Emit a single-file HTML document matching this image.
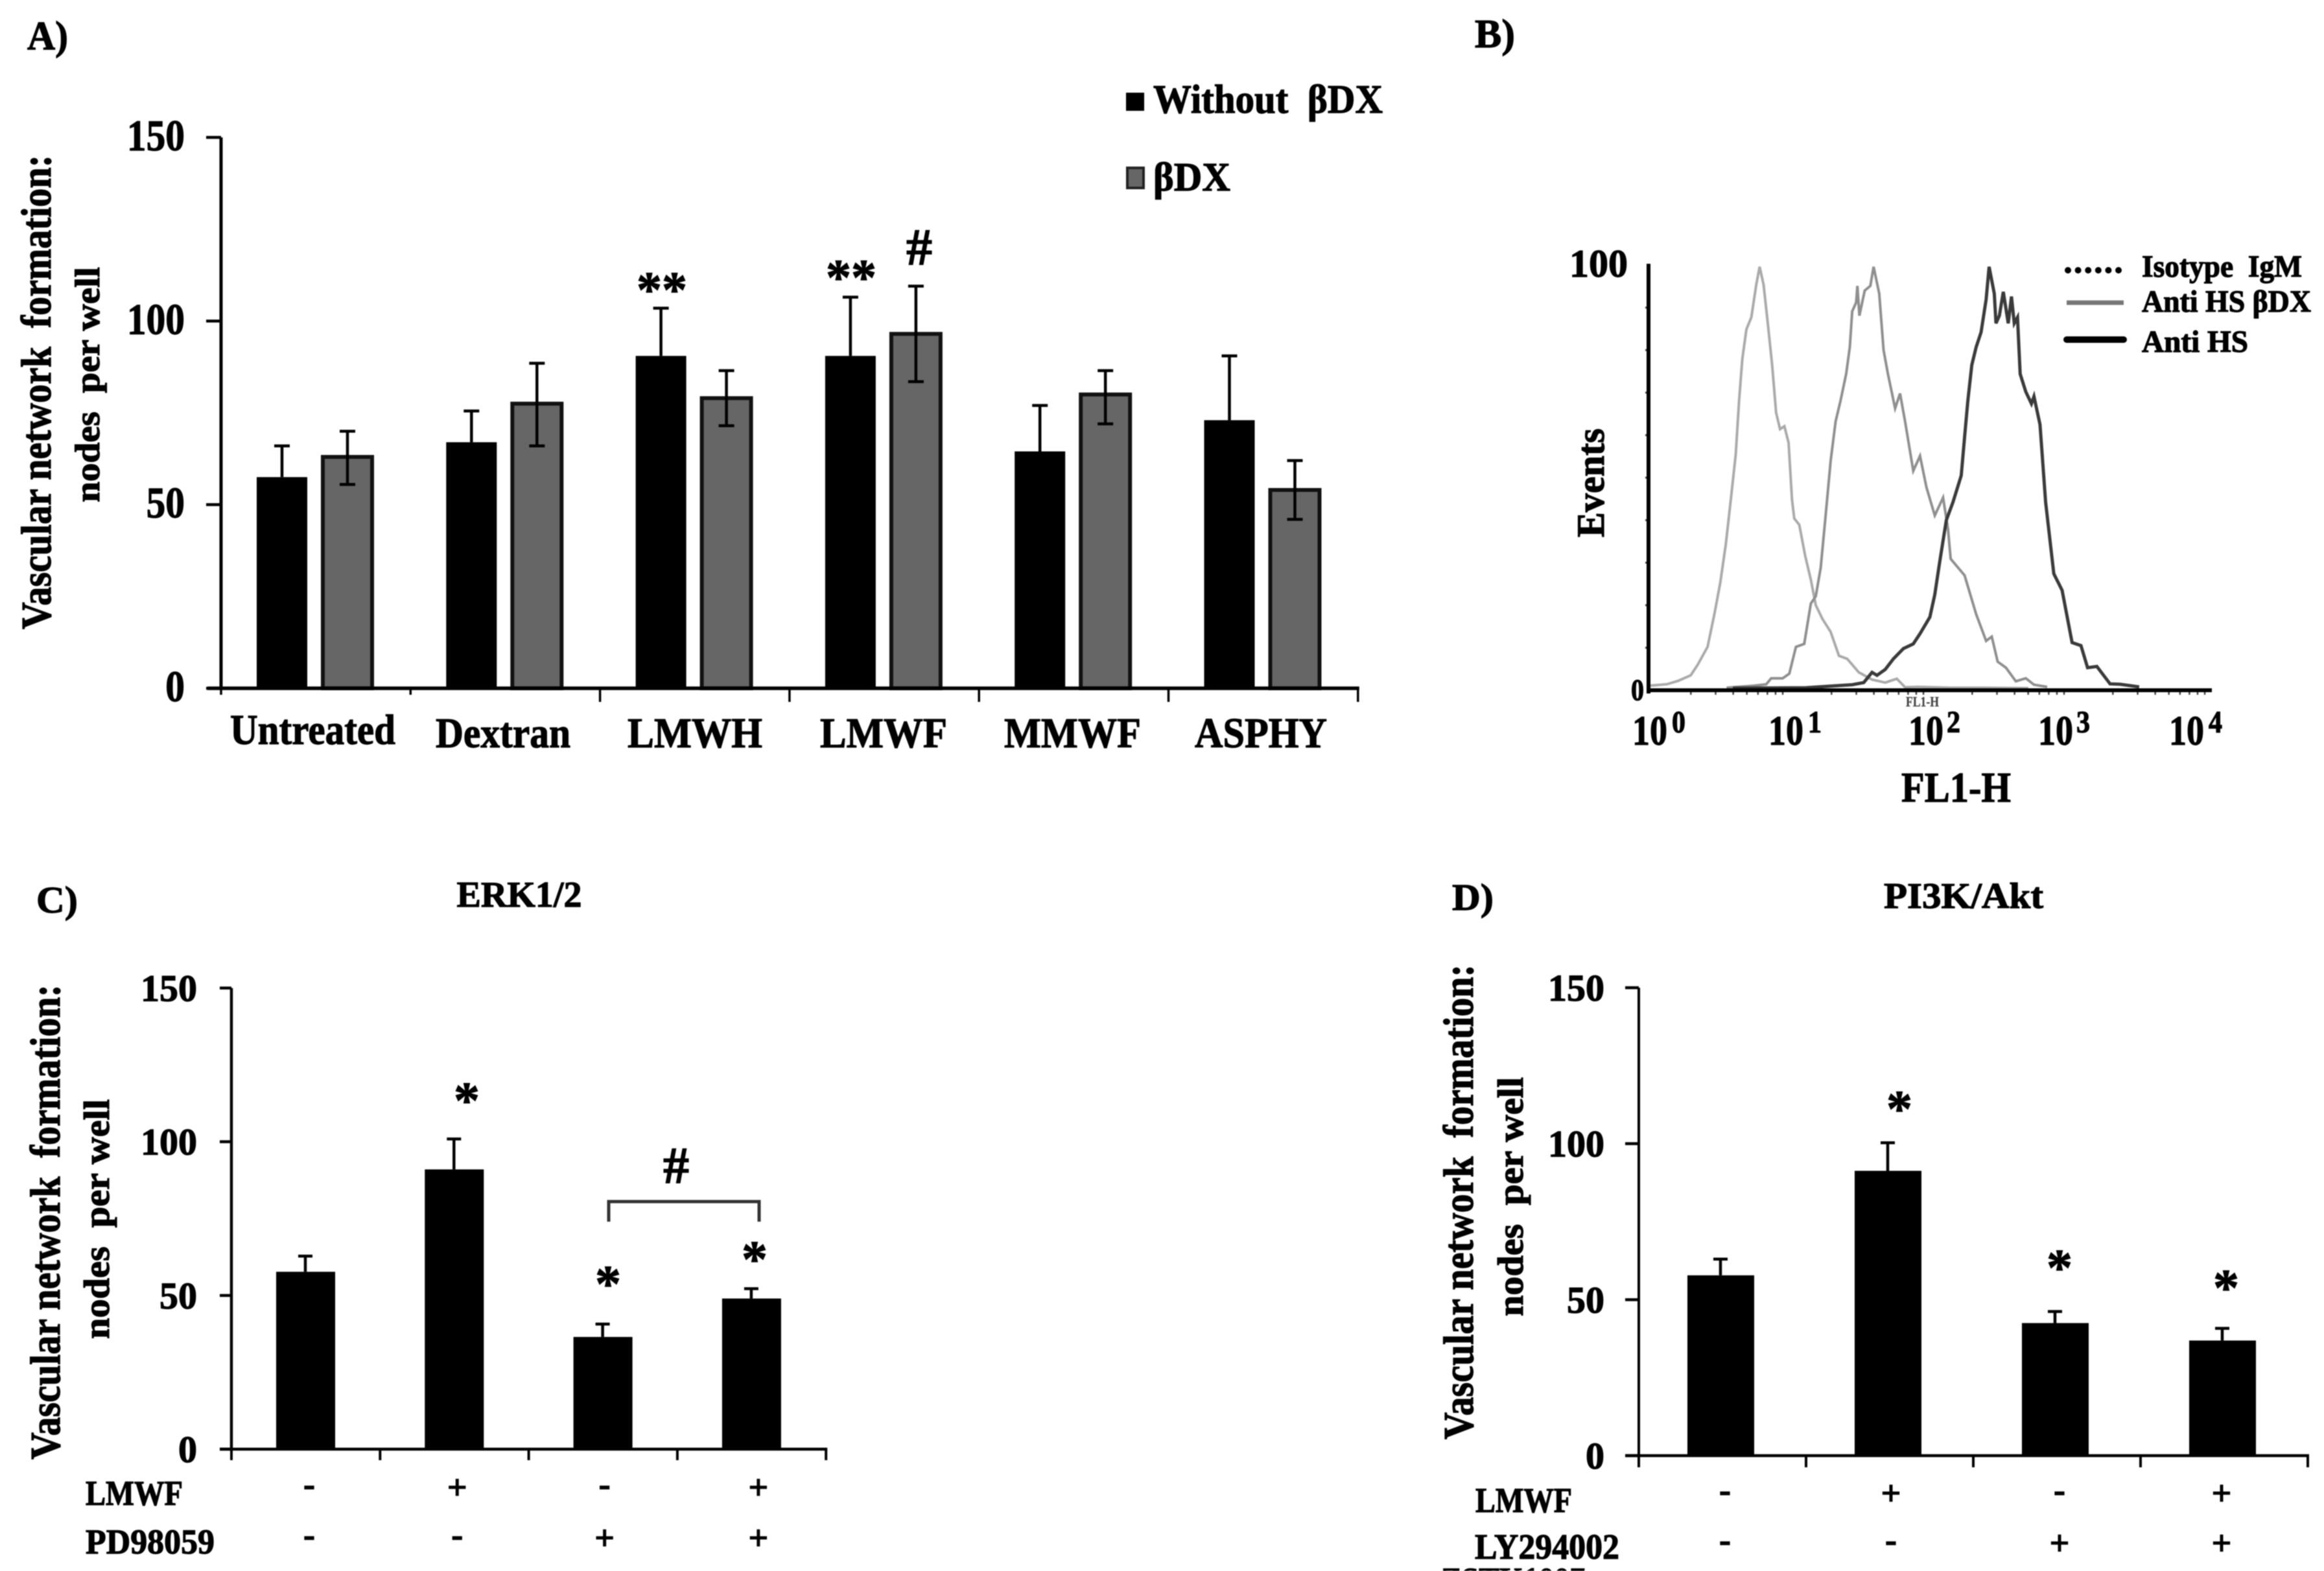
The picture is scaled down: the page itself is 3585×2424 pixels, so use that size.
<!DOCTYPE html>
<html lang="en">
<head>
<meta charset="utf-8">
<title>Vascular network formation figure</title>
<style>
  html, body { margin: 0; padding: 0; background: #fff; }
  svg { display: block; filter: blur(0.9px); }
  text { font-family: "Liberation Serif", serif; font-weight: bold; fill: #000; stroke: #000; stroke-width: 1.2px; white-space: pre; }
</style>
</head>
<body>
<svg id="figure" xmlns="http://www.w3.org/2000/svg" width="3585" height="2424" viewBox="0 0 3585 2424">
  <rect x="0" y="0" width="3585" height="2424" fill="#fff"/>

  <!-- Panel A static labels -->
  <text x="42" y="76" font-size="62" textLength="63" lengthAdjust="spacingAndGlyphs">A)</text>
  <text transform="translate(78 971) rotate(-90)" font-size="66" textLength="732" lengthAdjust="spacingAndGlyphs">Vascular network  formation:</text>
  <text transform="translate(153 775) rotate(-90)" font-size="54" textLength="363" lengthAdjust="spacingAndGlyphs">nodes  per well</text>
  <rect x="1737" y="143" width="28" height="28" fill="#000"/>
  <text x="1779" y="174" font-size="62" textLength="354" lengthAdjust="spacingAndGlyphs">Without  βDX</text>
  <rect x="1739" y="259" width="25" height="31" fill="#666" stroke="#222" stroke-width="4"/>
  <text x="1779" y="294" font-size="62" textLength="119" lengthAdjust="spacingAndGlyphs">βDX</text>
  <text x="1021" y="473" font-size="78" text-anchor="middle">**</text>
  <text x="1313" y="454" font-size="78" text-anchor="middle">**</text>
  <text x="1418" y="408" font-size="80" text-anchor="middle">#</text>

  <!-- Panel B static labels -->
  <text x="2275" y="73" font-size="62" textLength="62" lengthAdjust="spacingAndGlyphs">B)</text>
  <text transform="translate(2474 829) rotate(-90)" font-size="60" textLength="168" lengthAdjust="spacingAndGlyphs">Events</text>
  <text x="2933" y="1237" font-size="66" textLength="169" lengthAdjust="spacingAndGlyphs">FL1-H</text>
  <text x="2940" y="1090" font-size="22" textLength="51" lengthAdjust="spacingAndGlyphs" style="fill:#444;stroke:#444;stroke-width:0.3px">FL1-H</text>
  <line x1="3190" y1="417" x2="3275" y2="417" stroke="#000" stroke-width="10" stroke-linecap="round" stroke-dasharray="0 15.6"/>
  <line x1="3188" y1="467" x2="3276" y2="467" stroke="#777" stroke-width="7"/>
  <line x1="3188" y1="524" x2="3276" y2="524" stroke="#000" stroke-width="10" stroke-linecap="round"/>
  <text x="3304" y="427" font-size="48" textLength="247" lengthAdjust="spacingAndGlyphs">Isotype  IgM</text>
  <text x="3304" y="481" font-size="48" textLength="261" lengthAdjust="spacingAndGlyphs">Anti HS βDX</text>
  <text x="3304" y="543" font-size="48" textLength="164" lengthAdjust="spacingAndGlyphs">Anti HS</text>

  <!-- Panel C static labels -->
  <text x="56" y="1408" font-size="58" textLength="64" lengthAdjust="spacingAndGlyphs">C)</text>
  <text x="801" y="1399" font-size="56" text-anchor="middle">ERK1/2</text>
  <text transform="translate(92 2252) rotate(-90)" font-size="66" textLength="733" lengthAdjust="spacingAndGlyphs">Vascular network  formation:</text>
  <text transform="translate(168 2066) rotate(-90)" font-size="56" textLength="370" lengthAdjust="spacingAndGlyphs">nodes  per well</text>
  <text x="132" y="2322" font-size="54" textLength="150" lengthAdjust="spacingAndGlyphs">LMWF</text>
  <text x="132" y="2397" font-size="54" textLength="199" lengthAdjust="spacingAndGlyphs">PD98059</text>
  <text x="720" y="1725" font-size="80" text-anchor="middle">*</text>
  <text x="938" y="2008" font-size="80" text-anchor="middle">*</text>
  <text x="1164" y="1970" font-size="80" text-anchor="middle">*</text>
  <text x="1043" y="1825" font-size="80" text-anchor="middle">#</text>
  <path d="M939 1885 V1854 H1171 V1885" fill="none" stroke="#333" stroke-width="5"/>

  <!-- Panel D static labels -->
  <text x="2240" y="1404" font-size="58" textLength="64" lengthAdjust="spacingAndGlyphs">D)</text>
  <text x="2906" y="1401" font-size="56" textLength="246" lengthAdjust="spacingAndGlyphs">PI3K/Akt</text>
  <text transform="translate(2272 2221) rotate(-90)" font-size="66" textLength="733" lengthAdjust="spacingAndGlyphs">Vascular network  formation:</text>
  <text transform="translate(2349 2031) rotate(-90)" font-size="56" textLength="369" lengthAdjust="spacingAndGlyphs">nodes  per well</text>
  <text x="2276" y="2333" font-size="54" textLength="149" lengthAdjust="spacingAndGlyphs">LMWF</text>
  <text x="2275" y="2405" font-size="55" textLength="223" lengthAdjust="spacingAndGlyphs">LY294002</text>
  <text x="2223" y="2453" font-size="50" textLength="222" lengthAdjust="spacingAndGlyphs">ZSTK1007</text>
  <text x="2930" y="1738" font-size="80" text-anchor="middle">*</text>
  <text x="3177" y="1983" font-size="80" text-anchor="middle">*</text>
  <text x="3434" y="2014" font-size="80" text-anchor="middle">*</text>

  <g id="marks"></g>
</svg>

<script>
// ---------- Panel A data ----------
const aCategories = ['Untreated', 'Dextran', 'LMWH', 'LMWF', 'MMWF', 'ASPHY'];
const aWithoutValues = [57.5, 67, 90.5, 90.5, 64.5, 73];
const aWithoutErrTop = [66, 75.5, 103.5, 106.5, 77, 90.5];
const aBdxValues = [63, 77.5, 79, 96.5, 80, 54];
const aBdxErrTop = [70, 88.5, 86.5, 109.5, 86.5, 62];
const aBdxErrBottom = [55.5, 66, 71.5, 83.5, 72, 46];
const yTickValues = [0, 50, 100, 150];

// ---------- Panel B data: log10(FL1-H) and % events ----------
const isoLog = [0, 0.13, 0.21, 0.3, 0.35, 0.42, 0.47, 0.51, 0.55, 0.59, 0.62, 0.644, 0.667, 0.696, 0.731, 0.766, 0.79, 0.818, 0.848, 0.879, 0.907, 0.935, 0.966, 0.996, 1.02, 1.036, 1.072, 1.114, 1.154, 1.189, 1.236, 1.295, 1.354, 1.412, 1.495, 1.589, 1.683, 1.765, 1.824, 1.918, 2.153, 2.39, 2.7];
const isoEvents = [1.05, 1.4, 2.2, 3.5, 6, 10.2, 18.2, 25.3, 34.4, 46.3, 55.4, 68.1, 77.9, 84.9, 87.7, 95.4, 99.6, 95.4, 86.3, 76.5, 65.3, 61.4, 62.1, 58.2, 44.9, 40.4, 38.9, 31.6, 26, 20, 16.8, 13.7, 8.1, 7.4, 4.2, 2.5, 1.8, 2.7, 0.7, 0.8, 0.6, 0.6, 0.5];
const bdxLog = [0.555, 0.743, 0.837, 0.872, 0.954, 1.001, 1.048, 1.107, 1.154, 1.189, 1.224, 1.26, 1.295, 1.33, 1.365, 1.405, 1.431, 1.448, 1.476, 1.485, 1.499, 1.537, 1.577, 1.6, 1.64, 1.671, 1.702, 1.753, 1.788, 1.824, 1.882, 1.93, 1.976, 2.035, 2.094, 2.129, 2.148, 2.247, 2.329, 2.4, 2.44, 2.482, 2.541, 2.611, 2.682, 2.74, 2.834];
const bdxEvents = [0.6, 1.05, 1.4, 2.8, 2.8, 3.9, 10.2, 10.9, 20.4, 22.1, 28.8, 41.4, 54, 63.2, 68.1, 74.4, 80.7, 89.1, 91.2, 95.1, 88.1, 94, 95.1, 99.6, 93.3, 80, 74.4, 66.3, 69.8, 63.2, 51.6, 55.1, 47.7, 41.1, 45.3, 37.9, 30.9, 27, 17.9, 11.6, 12.6, 6.7, 5.3, 2.1, 2.8, 1.3, 0.8];
const hsLog = [0.6, 1.119, 1.33, 1.448, 1.53, 1.589, 1.624, 1.683, 1.741, 1.812, 1.882, 1.93, 2, 2.035, 2.07, 2.117, 2.164, 2.223, 2.247, 2.27, 2.298, 2.329, 2.364, 2.4, 2.421, 2.458, 2.47, 2.494, 2.522, 2.557, 2.58, 2.6, 2.623, 2.642, 2.682, 2.722, 2.74, 2.783, 2.823, 2.881, 2.94, 3.011, 3.074, 3.121, 3.187, 3.281, 3.351, 3.488];
const hsEvents = [0.5, 0.6, 1.05, 1.3, 1.8, 4.2, 3.5, 4.9, 7.4, 9.8, 10.9, 13.3, 17.2, 22.5, 30.2, 40, 44.2, 50.5, 59.6, 68.1, 76.5, 80.7, 84.2, 91.9, 99.6, 93.3, 86.3, 88.1, 93.7, 86.3, 92.6, 86.3, 87.7, 74.4, 70.2, 67.4, 69.1, 62.5, 44.2, 27.4, 23.5, 11.2, 10.5, 5.3, 5.6, 1.5, 1.4, 0.8];
const bMinorEvents = [10, 20, 30, 40, 50, 60, 70, 80, 90];
const bMinorMultipliers = [2, 3, 4, 5, 6, 7, 8, 9];
const bDecades = [0, 1, 2, 3];

// ---------- Panel C data ----------
const cValues = [57.7, 91, 36.5, 49];
const cErrTop = [62.8, 100.9, 40.7, 52.2];
const cLmwfSigns = ['-', '+', '-', '+'];
const cInhibitorSigns = ['-', '-', '+', '+'];

// ---------- Panel D data ----------
const dValues = [57.8, 91.3, 42.5, 36.9];
const dErrTop = [63, 100.3, 46.2, 40.8];
const dLmwfSigns = ['-', '+', '-', '+'];
const dInhibitorSigns = ['-', '-', '+', '+'];

// ---------- Helpers ----------
const NS = 'http://www.w3.org/2000/svg';
const marks = document.getElementById('marks');

function add(tag, name, attrs, content) {
  const el = document.createElementNS(NS, tag);
  
  
  for (const key of Object.keys(attrs)) {
    el.setAttribute(key, attrs[key]);
  }
  if (content !== undefined) {
    el.textContent = content;
  }
  marks.appendChild(el);
  return el;
}

function segment(name, x1, y1, x2, y2, width, color) {
  return add('line', name, { x1: x1, y1: y1, x2: x2, y2: y2, stroke: color || '#000', 'stroke-width': width });
}

function errorBar(name, x, top, bottom, capHalf, width) {
  segment(name + '-stem', x, top, x, bottom, width);
  segment(name + '-cap-top', x - capHalf, top, x + capHalf, top, width);
}

function yAxisTicks(panel, axisX, tickLeft, yScale, labelRight, fontSize, digitWidth) {
  yTickValues.forEach(function (v) {
    const label = String(v);
    segment(panel + '-y-tick-' + v, tickLeft, yScale(v), axisX, yScale(v), 4.5);
    add('text', panel + '-y-tick-label-' + v, {
      x: labelRight - label.length * digitWidth,
      y: yScale(v) + 20,
      'font-size': fontSize,
      textLength: label.length * digitWidth,
      lengthAdjust: 'spacingAndGlyphs'
    }, label);
  });
}

function signRow(panel, rowName, signs, centers, centerY) {
  signs.forEach(function (sign, i) {
    const fs = 54;
    const offset = sign === '+' ? 0.3 * fs : 0.2 * fs;
    add('text', panel + '-' + rowName + '-sign-' + (i + 1), {
      x: centers(i),
      y: centerY + offset,
      'font-size': fs,
      'text-anchor': 'middle'
    }, sign);
  });
}

// ---------- Panel A ----------
(function () {
  const axisX = 341;
  const y0 = 1062;
  const yTop = 212;
  const band = 292.3;
  const yScale = function (v) { return y0 - v * (y0 - yTop) / 150; };
  const bandStart = function (i) { return axisX + i * band; };

  aCategories.forEach(function (cat, i) {
    const bx = bandStart(i) + 55;
    const gx = bandStart(i) + 157;
    add('rect', 'bar-without-bdx-' + cat.toLowerCase(), {
      x: bx, y: yScale(aWithoutValues[i]), width: 78, height: y0 - yScale(aWithoutValues[i]), fill: '#000'
    });
    errorBar('error-without-bdx-' + cat.toLowerCase(), bx + 39, yScale(aWithoutErrTop[i]), yScale(aWithoutValues[i]), 12, 4.5);
    add('rect', 'bar-bdx-' + cat.toLowerCase(), {
      x: gx, y: yScale(aBdxValues[i]), width: 76, height: y0 - yScale(aBdxValues[i]), fill: '#666', stroke: '#111', 'stroke-width': 6
    });
    errorBar('error-bdx-' + cat.toLowerCase(), gx + 38, yScale(aBdxErrTop[i]), yScale(aBdxErrBottom[i]), 12, 4.5);
    segment('error-bdx-' + cat.toLowerCase() + '-cap-bottom', gx + 26, yScale(aBdxErrBottom[i]), gx + 50, yScale(aBdxErrBottom[i]), 4.5);
    segment('x-tick-a-' + (i + 1), bandStart(i), y0, bandStart(i), y0 + (i < 2 ? 10 : 21), 3.5);
  });
  segment('x-tick-a-7', bandStart(6), y0, bandStart(6), y0 + 21, 3.5);

  segment('panel-a-y-axis', axisX, yTop, axisX, y0 + 2, 5);
  segment('panel-a-x-axis', axisX - 21, y0, bandStart(6) + 2, y0, 5.5);
  yAxisTicks('panel-a', axisX, axisX - 23, yScale, 285, 68, 29.7);

  const labelStart = [355, 672, 968, 1265, 1549, 1843];
  const labelWidth = [255, 208, 208, 196, 211, 204];
  const labelBaseline = [1148, 1153, 1153, 1153, 1153, 1153];
  aCategories.forEach(function (cat, i) {
    add('text', 'x-label-' + cat.toLowerCase(), {
      x: labelStart[i], y: labelBaseline[i], 'font-size': 66, textLength: labelWidth[i], lengthAdjust: 'spacingAndGlyphs'
    }, cat);
  });
})();

// ---------- Panel B ----------
(function () {
  const axisX = 2543;
  const y0 = 1065;
  const yTop = 409;
  const decade = 217;
  const xScale = function (lg) { return axisX + lg * decade; };
  const yScale = function (ev) { return y0 - ev * (y0 - yTop) / 100; };
  const pathFrom = function (xs, ys) {
    return xs.map(function (x, i) {
      return (i === 0 ? 'M' : 'L') + xScale(x).toFixed(1) + ' ' + yScale(ys[i]).toFixed(1);
    }).join(' ');
  };
  add('path', 'histogram-left-isotype', { d: pathFrom(isoLog, isoEvents), fill: 'none', stroke: '#aaa', 'stroke-width': 4 });
  add('path', 'histogram-middle-anti-hs-bdx', { d: pathFrom(bdxLog, bdxEvents), fill: 'none', stroke: '#8f8f8f', 'stroke-width': 4 });
  add('path', 'histogram-right-anti-hs', { d: pathFrom(hsLog, hsEvents), fill: 'none', stroke: '#3a3a3a', 'stroke-width': 5 });

  bMinorEvents.forEach(function (ev) {
    segment('panel-b-y-minor-tick-' + ev, axisX - 5, yScale(ev), axisX, yScale(ev), 3, '#444');
  });
  bDecades.forEach(function (d) {
    bMinorMultipliers.forEach(function (m) {
      const lg = d + Math.log10(m);
      segment('panel-b-x-minor-tick-' + d + '-' + m, xScale(lg), y0, xScale(lg), y0 + 7, 2.5, '#444');
    });
  });
  segment('panel-b-y-axis', axisX, yTop - 2, axisX, y0 + 5, 6);
  segment('panel-b-x-axis', axisX, y0, 3412, y0, 6);

  add('text', 'panel-b-y-tick-label-100', { x: 2511, y: 427, 'font-size': 60, 'text-anchor': 'end' }, '100');
  add('text', 'panel-b-y-tick-label-0', { x: 2516, y: 1080, 'font-size': 47, textLength: 20, lengthAdjust: 'spacingAndGlyphs' }, '0');

  const expLabels = ['0', '1', '2', '3', '4'];
  const baseStart = [2518, 2728, 2944, 3144, 3346];
  const expStart = [2579, 2789, 3003, 3203, 3407];
  expLabels.forEach(function (exp, i) {
    add('text', 'panel-b-x-tick-base-' + exp, {
      x: baseStart[i], y: 1149, 'font-size': 65, textLength: 54, lengthAdjust: 'spacingAndGlyphs'
    }, '10');
    add('text', 'panel-b-x-tick-exponent-' + exp, {
      x: expStart[i], y: 1130, 'font-size': 48, textLength: 21, lengthAdjust: 'spacingAndGlyphs'
    }, exp);
  });
})();

// ---------- Panel C ----------
(function () {
  const axisX = 357;
  const y0 = 2236;
  const yTop = 1524.5;
  const band = 229.3;
  const yScale = function (v) { return y0 - v * (y0 - yTop) / 150; };
  const bandStart = function (i) { return axisX + i * band; };

  cValues.forEach(function (v, i) {
    const bx = bandStart(i) + 69;
    add('rect', 'panel-c-bar-' + (i + 1), { x: bx, y: yScale(v), width: 91, height: y0 - yScale(v), fill: '#000' });
    errorBar('panel-c-error-' + (i + 1), bx + 45, yScale(cErrTop[i]), yScale(v), 11, 4.5);
  });
  for (let i = 0; i <= cValues.length; i++) {
    segment('panel-c-x-tick-' + (i + 1), bandStart(i), y0, bandStart(i), y0 + 17, 4);
  }
  segment('panel-c-y-axis', axisX, yTop, axisX, y0 + 2, 4.5);
  segment('panel-c-x-axis', axisX - 18, y0, bandStart(4) + 2, y0, 4.5);
  yAxisTicks('panel-c', axisX, axisX - 18, yScale, 304, 58, 29);

  const signCenter = function (i) { return bandStart(i) + 120 - (i === 1 ? 1 : 0) - (i === 2 ? 3 : 0) + (i === 3 ? 5 : 0); };
  signRow('panel-c', 'lmwf', cLmwfSigns, signCenter, 2297);
  signRow('panel-c', 'inhibitor', cInhibitorSigns, signCenter, 2375);
})();

// ---------- Panel D ----------
(function () {
  const axisX = 2528;
  const y0 = 2246;
  const yTop = 1524;
  const band = 258;
  const yScale = function (v) { return y0 - v * (y0 - yTop) / 150; };
  const bandStart = function (i) { return axisX + i * band; };

  dValues.forEach(function (v, i) {
    const bx = bandStart(i) + 75;
    add('rect', 'panel-d-bar-' + (i + 1), { x: bx, y: yScale(v), width: 103, height: y0 - yScale(v), fill: '#000' });
    errorBar('panel-d-error-' + (i + 1), bx + 51, yScale(dErrTop[i]), yScale(v), 11, 4.5);
  });
  for (let i = 0; i <= dValues.length; i++) {
    segment('panel-d-x-tick-' + (i + 1), bandStart(i), y0, bandStart(i), y0 + 18, 4);
  }
  segment('panel-d-y-axis', axisX, yTop, axisX, y0 + 2, 4);
  segment('panel-d-x-axis', axisX - 21, y0, bandStart(4) + 2, y0, 4.5);
  yAxisTicks('panel-d', axisX, axisX - 21, yScale, 2475, 58, 29);

  const signCenter = function (i) { return bandStart(i) + 133 - (i === 3 ? 8 : 0) - (i === 1 ? 2 : 0); };
  signRow('panel-d', 'lmwf', dLmwfSigns, signCenter, 2306);
  signRow('panel-d', 'inhibitor', dInhibitorSigns, signCenter, 2383);
})();
</script>
</body>
</html>
